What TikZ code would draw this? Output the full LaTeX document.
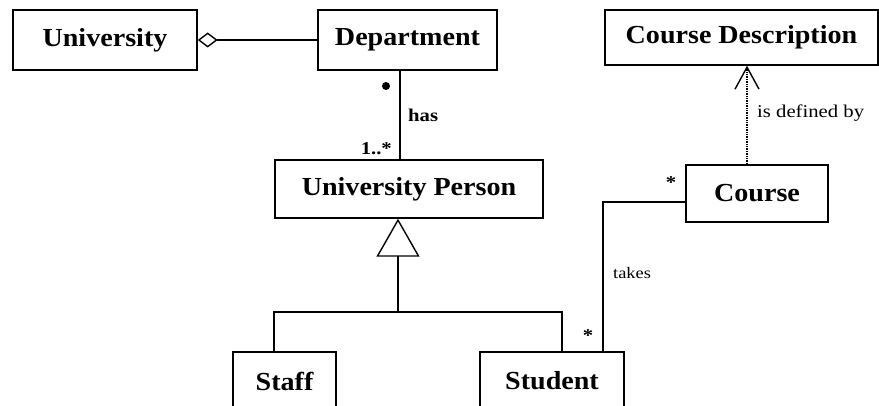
\documentclass[tikz,border=0pt]{standalone}
\usepackage{fontspec}
\setmainfont{Liberation Serif}
\newfontfamily\classfont[FakeStretch=1.08]{Liberation Serif}
\newfontfamily\labelfont[FakeStretch=1.15]{Liberation Serif}
\usetikzlibrary{arrows.meta}
\begin{document}
\begin{tikzpicture}[x=1pt,y=-1pt,
  classbox/.style={draw, line width=1.4pt, rectangle, inner sep=0pt,
    font=\classfont\bfseries\fontsize{26}{30}\selectfont},
  conn/.style={line width=1.4pt},
  lbl/.style={inner sep=0pt, font=\labelfont\fontsize{18}{21}\selectfont},
  lblb/.style={inner sep=0pt, font=\labelfont\bfseries\fontsize{18}{21}\selectfont}]
\useasboundingbox (0,0) rectangle (879,406);
\clip (0,0) rectangle (879,406);

% classes
\node[classbox, minimum width=184pt, minimum height=60pt] (univ) at (105,40) {University};
\node[classbox, minimum width=179pt, minimum height=60pt] (dept) at (407.5,40) {Department};
\node[classbox, minimum width=273pt, minimum height=55pt] (cdesc) at (741.5,37.5) {Course Description};
\node[classbox, minimum width=268pt, minimum height=58pt] (uperson) at (409,189) {University Person};
\node[classbox, minimum width=142pt, minimum height=57pt] (course) at (757,193.5) {Course};
\node[classbox, minimum width=103pt, minimum height=58pt] (staff) at (284.5,381) {Staff};
\node[classbox, minimum width=144pt, minimum height=58pt] (student) at (552,381) {Student};

% helper coordinates for connector positions
\coordinate (hasx) at (400,0);
\coordinate (genx) at (398,0);
\coordinate (bar) at (398,312);
\coordinate (staffx) at (274,0);
\coordinate (studx) at (562,0);
\coordinate (takesx) at (603,0);
\coordinate (takesy) at (0,202);
\coordinate (defx) at (747,0);

% aggregation
\draw[conn, {Diamond[open, length=20pt, width=15pt, line width=1.4pt]}-] (univ.east) -- (dept.west);

% has association
\draw[conn] (dept.south -| hasx) -- (uperson.north -| hasx);
\fill (386,86) circle (4pt);
\node[lblb, anchor=base west] (has) at (408,122) {has};
\node[lblb, anchor=base east] (mult1) at (392,155) {1..*};

% generalization
\draw[conn, -{Triangle[open, length=38pt, width=43pt, line width=1.4pt]}] (bar) -- (uperson.south -| genx);
\draw[conn] (staff.north -| staffx) |- (bar) -| (student.north -| studx);

% takes association
\draw[conn] (student.north -| takesx) |- (course.west |- takesy);
\node[lblb] (mult2) at (671,183) {*};
\node[lblb] (mult3) at (588,336) {*};
\node[lbl, anchor=base west, font=\labelfont\fontsize{16}{19}\selectfont] (takes) at (613,279) {takes};

% dependency
\draw[conn, densely dotted, -{Straight Barb[length=22pt, width=24pt, line width=1.4pt]}] (course.north -| defx) -- (cdesc.south -| defx);
\node[lbl, anchor=base west] (defby) at (757,118) {is defined by};
\end{tikzpicture}
\end{document}
